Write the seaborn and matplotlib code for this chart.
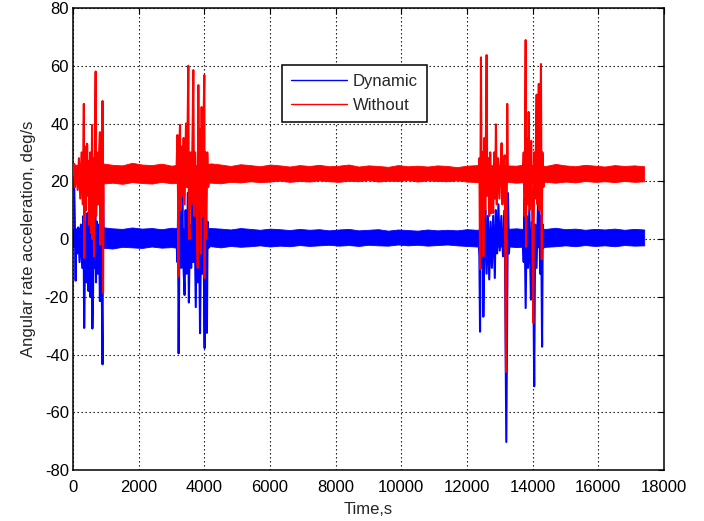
import numpy as np
import pandas as pd
import matplotlib
matplotlib.use("Agg")
import matplotlib.pyplot as plt
from matplotlib.lines import Line2D
import seaborn as sns

# ---- quiet-period noise envelope (sampled every 300 s) ----
band_t = [0, 300, 600, 900, 1200, 1500, 1800, 2100, 2400, 2700, 3000, 3300, 3600, 3900,
          4200, 4500, 4800, 5100, 5400, 5700, 6000, 6300, 6600, 6900, 7200, 7500, 7800,
          8100, 8400, 8700, 9000, 9300, 9600, 9900, 10200, 10500, 10800, 11100, 11400,
          11700, 12000, 12300, 12600, 12900, 13200, 13500, 13800, 14100, 14400, 14700,
          15000, 15300, 15600, 15900, 16200, 16500, 16800, 17100, 17400]
red_hi = [25.6, 25.9, 25.4, 26.2, 25.7, 25.5, 26.4, 25.8, 25.6, 26.1, 25.4, 25.9, 25.7, 25.5,
          26.2, 25.8, 25.3, 25.9, 25.6, 25.2, 25.8, 25.5, 25.1, 25.6, 25.3, 25.7, 25.2,
          25.4, 25.8, 25.1, 25.5, 25.3, 25.0, 25.6, 25.2, 25.4, 25.1, 25.5, 25.3,
          24.9, 25.4, 25.6, 25.3, 25.8, 25.5, 25.4, 25.9, 25.6, 25.3, 26.0,
          25.5, 25.2, 25.7, 25.4, 25.1, 25.6, 25.3, 25.5, 25.2]
red_lo = [19.6, 19.3, 19.8, 19.2, 19.5, 19.1, 19.7, 19.4, 19.2, 19.8, 19.3, 19.6, 19.4, 19.9,
          19.5, 19.3, 19.8, 19.6, 20.0, 19.7, 19.9, 20.2, 19.8, 20.1, 19.9, 20.3, 20.0,
          19.8, 20.2, 20.0, 20.4, 19.9, 20.2, 20.1, 20.4, 19.9, 20.3, 20.1, 20.0,
          20.3, 19.9, 19.7, 20.0, 19.6, 19.8, 19.5, 19.7, 19.4, 19.8, 19.5,
          19.9, 19.6, 20.1, 19.8, 20.0, 19.7, 20.1, 19.8, 20.0]
blue_hi = [3.6, 3.9, 3.4, 4.1, 3.7, 3.5, 4.0, 3.6, 3.8, 3.4, 3.9, 3.7, 3.5, 4.0,
           3.8, 3.6, 3.3, 3.8, 3.5, 3.2, 3.6, 3.4, 3.1, 3.5, 3.2, 3.4, 3.0,
           3.3, 3.5, 3.0, 3.2, 3.4, 2.9, 3.3, 3.1, 2.9, 3.3, 3.0, 3.2,
           3.0, 3.4, 3.2, 3.6, 3.3, 3.5, 3.7, 3.4, 3.8, 3.5, 3.9,
           3.4, 3.6, 3.2, 3.5, 3.3, 3.6, 3.2, 3.5, 3.3]
blue_lo = [-2.8, -3.2, -2.6, -3.0, -3.3, -2.7, -2.9, -3.1, -2.6, -3.0, -2.8, -3.2, -2.7, -2.9,
           -2.5, -2.9, -2.4, -2.7, -2.5, -2.2, -2.6, -2.3, -2.5, -2.1, -2.4, -2.2, -2.0,
           -2.3, -2.1, -2.4, -2.0, -2.2, -2.3, -1.9, -2.2, -2.0, -2.3, -2.1, -1.9,
           -2.2, -2.4, -2.6, -2.3, -2.7, -2.5, -2.8, -2.6, -2.9, -2.7, -2.5,
           -2.2, -2.5, -2.1, -2.4, -2.2, -2.5, -2.1, -2.3, -2.2]

# ---- manoeuvre bursts: (time [s], value [deg/s]) ----
red_bursts = [
    [(0, 22), (40, 26), (60, 18), (100, 25), (140, 17), (180, 28), (220, 14), (260, 30),
     (300, 12), (330, 46.8), (345, -6.5), (370, 32), (400, 10), (430, 33), (460, 15),
     (480, 27), (500, 5), (530, 30), (560, 2), (580, 39.5), (595, 0), (620, 28), (640, -6),
     (670, 35), (690, 58), (705, 8), (730, 30), (760, 12), (790, 28), (820, 37), (835, -2),
     (860, 30), (880, 10), (900, 47.8), (915, -18.6), (935, 24), (960, 22)],
    [(3150, 22), (3180, 36), (3200, 14), (3210, -13), (3230, 30), (3260, 39.5), (3280, 10),
     (3310, 32), (3340, 15), (3370, 35), (3400, 12), (3442, 40), (3470, 18), (3513, 60),
     (3530, 5), (3550, 0), (3580, 30), (3610, 12), (3640, 35), (3665, 58.5), (3690, 8),
     (3720, 30), (3760, 15), (3800, -10), (3818, 53.3), (3840, 10), (3870, 38), (3900, -5),
     (3918, 45.7), (3940, 8), (3970, 35), (4000, 56.8), (4010, -13.5), (4030, 30),
     (4060, 0), (4090, 30), (4120, 18), (4150, 22)],
    [(12350, 22), (12380, 28), (12400, -10.4), (12428, 62.9), (12450, 10), (12470, 30),
     (12490, 29), (12500, -6), (12530, 35), (12560, 10), (12600, 63.7), (12620, 15),
     (12650, 28), (12680, 8), (12710, 30), (12740, 9), (12770, 25), (12800, 9), (12830, 30),
     (12860, 14), (12884, 39.7), (12910, 12), (12950, 28), (12990, 14), (13030, 25),
     (13057, 33.2), (13080, 12), (13110, 26), (13150, 29), (13190, -46), (13228, 46.8),
     (13250, 20), (13280, 24), (13300, 22)],
    [(13700, 22), (13730, 30), (13760, 8), (13790, 68.9), (13800, -2.7), (13830, 35),
     (13860, 12), (13880, 44), (13910, 10), (13940, 30), (13960, 34), (13990, 8),
     (14020, -29), (14050, 30), (14080, 14), (14110, 40), (14124, 50), (14150, 12),
     (14190, 53.7), (14210, 10), (14255, 60.6), (14280, -7), (14300, 30), (14330, 18),
     (14360, 22)],
]
blue_bursts = [
    [(0, 20), (30, 22), (50, 10), (80, -14.4), (100, 3), (130, -5), (160, 4), (200, -8),
     (240, 5), (280, -10), (320, 8), (340, -30.8), (360, -12), (380, 6), (410, -15),
     (440, 9), (470, -18), (500, 5), (530, -20), (560, 4), (590, -31), (610, -20), (630, 10),
     (650, -10), (680, 12), (700, -15), (730, 6), (760, -12), (790, 5), (820, -21.5),
     (845, 8), (870, -10), (900, -43.4), (915, 18), (940, -3), (960, 1)],
    [(3150, 1), (3180, -8), (3200, 8), (3218, -39.6), (3240, -5), (3270, 12), (3300, -10),
     (3330, 15), (3360, -8), (3400, -19.4), (3430, 10), (3460, -12), (3500, 16),
     (3530, -22), (3560, 5), (3600, -10), (3630, 14), (3660, -8), (3700, 12),
     (3740, -23.6), (3770, 10), (3800, -15), (3830, 16), (3870, -32.6), (3900, 5),
     (3930, -12), (3960, 18), (4010, -37.8), (4030, 8), (4050, -15), (4080, -32.5),
     (4100, 6), (4130, -3), (4150, 1)],
    [(12350, 1), (12380, -6), (12400, -32.1), (12420, 5), (12450, -10), (12480, 12),
     (12500, -26.9), (12530, -5), (12560, 10), (12600, -12), (12640, 8), (12680, -14),
     (12720, 6), (12760, -10), (12800, 8), (12850, -13.5), (12880, 10), (12920, -5),
     (12960, 12), (13000, -4), (13050, 8), (13100, -6), (13150, 10), (13200, -70.3),
     (13250, 15.9), (13280, -5), (13310, 1)],
    [(13700, 1), (13730, -8), (13750, 14), (13790, -23.9), (13820, 8), (13860, -10),
     (13900, 10), (13950, -21), (13980, 6), (14020, -8), (14050, -51), (14080, 5),
     (14120, -10), (14160, 10), (14200, 17.3), (14230, -12), (14260, 8), (14290, -37.3),
     (14310, 5), (14340, -3), (14370, 1)],
]

series_names = ["Dynamic", "Without"]
series_colors = {"Dynamic": "#0000ff", "Without": "#ff0000"}

rows = []
for name, bursts in (("Dynamic", blue_bursts), ("Without", red_bursts)):
    for k, burst in enumerate(bursts):
        for t, v in burst:
            rows.append({"Time": t, "Value": v, "Series": name, "Burst": k})
bursts_df = pd.DataFrame(rows)

sns.set_theme(style="white")
plt.rcParams["font.family"] = ["Liberation Sans", "DejaVu Sans"]
plt.rcParams["axes.unicode_minus"] = False

fig = plt.figure(figsize=(7.04, 5.21), dpi=100)
ax = fig.add_axes([0.1037, 0.0979, 0.8393, 0.8867])

for name, hi, lo in (("Dynamic", blue_hi, blue_lo), ("Without", red_hi, red_lo)):
    c = series_colors[name]
    ax.fill_between(band_t, lo, hi, color=c, linewidth=0.6, edgecolor=c, zorder=2)
    sns.lineplot(data=bursts_df[bursts_df["Series"] == name], x="Time", y="Value",
                 units="Burst", estimator=None, sort=False, color=c, lw=1.5,
                 legend=False, ax=ax, zorder=3)

ax.set_xlim(0, 18000)
ax.set_ylim(-80, 80)
ax.set_xticks(np.arange(0, 18001, 2000))
ax.set_yticks(np.arange(-80, 81, 20))
ax.grid(True, color="black", linestyle=(0, (1.2, 2.4)), linewidth=0.8)
ax.tick_params(axis="both", direction="in", length=4, width=0.8, labelsize=12,
               colors="black", top=True, right=True)
ax.tick_params(axis="x", pad=7)
ax.tick_params(axis="y", pad=3)
for s in ax.spines.values():
    s.set_color("black")
    s.set_linewidth(1.1)
ax.set_xlabel("Time,s", fontsize=12, labelpad=5)
ax.set_ylabel("Angular rate acceleration, deg/s", fontsize=12, labelpad=6)

handles = [Line2D([], [], color=series_colors[n], lw=1.0) for n in series_names]
leg = ax.legend(handles, series_names, loc="upper left", bbox_to_anchor=(0.354, 0.877),
                fontsize=12, handlelength=3.33, handletextpad=0.35, labelspacing=0.55,
                borderpad=0.55, borderaxespad=0, fancybox=False, framealpha=1,
                edgecolor="black")
leg.get_frame().set_linewidth(1.1)
leg.set_zorder(5)

fig.savefig("out.png", dpi=100, facecolor="white")
